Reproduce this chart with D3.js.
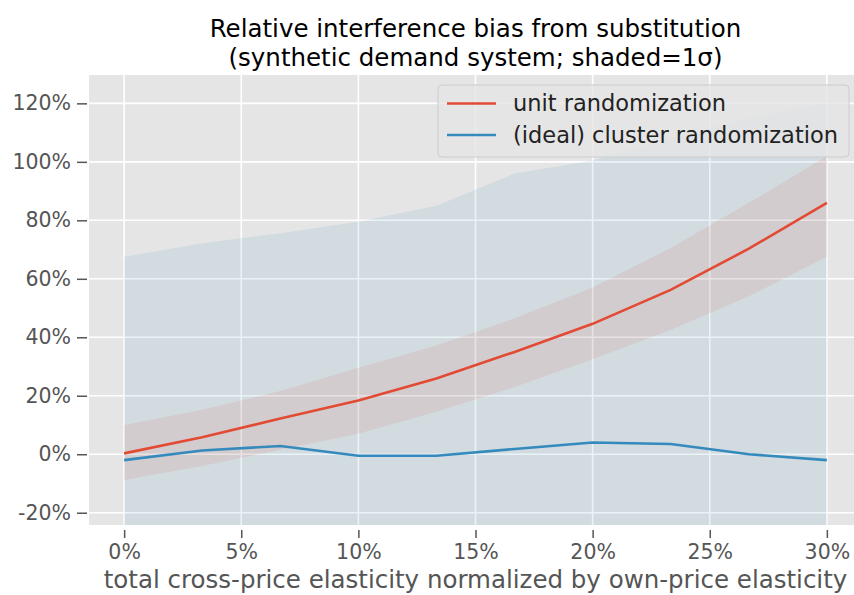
<!DOCTYPE html>
<html>
<head>
<meta charset="utf-8">
<script src="https://d3js.org/d3.v7.min.js"></script>
<style>
  body { margin: 0; background: #fff; }
  text { font-family: "DejaVu Sans", sans-serif; }
</style>
</head>
<body>
<div id="chart"></div>
<script>
// Data (values in percent)
var elasticity = [0, 3.33, 6.67, 10, 13.33, 16.67, 20, 23.33, 26.67, 30];

var unitMean  = [0.3, 5.8, 12.2, 18.4, 25.9, 35.0, 44.6, 56.2, 70.3, 86.0];
var unitLow   = [-8.8, -4.0, 1.5, 7.0, 14.5, 23.0, 32.5, 42.5, 54.0, 67.5];
var unitHigh  = [10.0, 15.2, 21.6, 29.6, 37.2, 46.5, 57.0, 70.5, 86.0, 102.0];

var clusterMean = [-2.0, 1.3, 2.8, -0.5, -0.5, 1.8, 4.0, 3.5, 0.0, -2.0];
var clusterLow  = [-71.5, -69.5, -70.0, -80.5, -86.0, -92.5, -92.5, -101.0, -115.0, -124.0];
var clusterHigh = [67.5, 72.2, 75.6, 79.5, 85.0, 96.0, 100.5, 108.0, 115.0, 120.0];

var xTicks = [0, 5, 10, 15, 20, 25, 30];
var yTicks = [-20, 0, 20, 40, 60, 80, 100, 120];

var seriesNames = ["unit randomization", "(ideal) cluster randomization"];
var seriesColors = ["#E24A33", "#348ABD"];

// Set up chart area
var svgWidth = 854;
var svgHeight = 595;

// the axes run past the right edge of the picture (cropped figure)
var margin = { top: 75, left: 89 };
var width = 773;
var height = 450;

var svg = d3.select("#chart")
  .append("svg")
  .attr("width", svgWidth)
  .attr("height", svgHeight);

var chartGroup = svg.append("g")
  .attr("transform", `translate(${margin.left}, ${margin.top})`);

// Scales
var xScale = d3.scaleLinear()
  .domain([-1.5, 31.5])
  .range([0, width]);

var yScale = d3.scaleLinear()
  .domain([-24.2, 129.7])
  .range([height, 0]);

// Background + grid
chartGroup.append("rect")
  .attr("width", width)
  .attr("height", height)
  .attr("fill", "#E5E5E5");

chartGroup.append("clipPath")
  .attr("id", "plotClip")
  .append("rect")
  .attr("width", width)
  .attr("height", height);

chartGroup.append("g")
  .selectAll("line")
  .data(xTicks)
  .enter()
  .append("line")
  .attr("x1", d => xScale(d))
  .attr("x2", d => xScale(d))
  .attr("y1", 0)
  .attr("y2", height)
  .attr("stroke", "#fff")
  .attr("stroke-width", 1.6);

chartGroup.append("g")
  .selectAll("line")
  .data(yTicks)
  .enter()
  .append("line")
  .attr("x1", 0)
  .attr("x2", width)
  .attr("y1", d => yScale(d))
  .attr("y2", d => yScale(d))
  .attr("stroke", "#fff")
  .attr("stroke-width", 1.6);

// Shaded bands and lines
var plotArea = chartGroup.append("g").attr("clip-path", "url(#plotClip)");

var bands = [
  { mean: clusterMean, low: clusterLow, high: clusterHigh, color: seriesColors[1] },
  { mean: unitMean, low: unitLow, high: unitHigh, color: seriesColors[0] }
];

var area = d3.area()
  .x(d => xScale(d.x))
  .y0(d => yScale(d.lo))
  .y1(d => yScale(d.hi));

var line = d3.line()
  .x(d => xScale(d.x))
  .y(d => yScale(d.y));

bands.forEach(function (b) {
  var pts = elasticity.map((x, i) => ({ x: x, lo: b.low[i], hi: b.high[i] }));
  plotArea.append("path")
    .datum(pts)
    .attr("d", area)
    .attr("fill", b.color)
    .attr("fill-opacity", 0.1);
});

// red line first, blue on top
[bands[1], bands[0]].forEach(function (b) {
  var pts = elasticity.map((x, i) => ({ x: x, y: b.mean[i] }));
  plotArea.append("path")
    .datum(pts)
    .attr("d", line)
    .attr("fill", "none")
    .attr("stroke", b.color)
    .attr("stroke-width", 2.6);
});

// Axes
var bottomAxis = d3.axisBottom(xScale)
  .tickValues(xTicks)
  .tickFormat(d => d + "%")
  .tickSize(8)
  .tickPadding(6);

var leftAxis = d3.axisLeft(yScale)
  .tickValues(yTicks)
  .tickFormat(d => d + "%")
  .tickSize(10)
  .tickPadding(6);

var xAxisG = chartGroup.append("g")
  .attr("transform", `translate(0, ${height + 5})`)
  .call(bottomAxis);

var yAxisG = chartGroup.append("g")
  .attr("transform", "translate(-2, 0)")
  .call(leftAxis);

[xAxisG, yAxisG].forEach(function (g) {
  g.select(".domain").remove();
  g.selectAll(".tick line").attr("stroke", "#555").attr("stroke-width", 1.5);
  g.selectAll(".tick text")
    .attr("fill", "#555")
    .style("font-size", "20.5px")
    .style("font-family", "DejaVu Sans, sans-serif");
});

// Axis label (centred on the axes)
svg.append("text")
  .attr("x", margin.left + width / 2)
  .attr("y", 588)
  .attr("text-anchor", "middle")
  .attr("fill", "#555")
  .style("font-size", "24.5px")
  .text("total cross-price elasticity normalized by own-price elasticity");

// Title
svg.append("text")
  .attr("x", margin.left + width / 2)
  .attr("y", 37)
  .attr("text-anchor", "middle")
  .attr("fill", "#000")
  .style("font-size", "24.5px")
  .text("Relative interference bias from substitution");

svg.append("text")
  .attr("x", margin.left + width / 2)
  .attr("y", 66)
  .attr("text-anchor", "middle")
  .attr("fill", "#000")
  .style("font-size", "24.5px")
  .text("(synthetic demand system; shaded=1σ)");

// Legend
var legend = svg.append("g");

legend.append("rect")
  .attr("x", 438)
  .attr("y", 85)
  .attr("width", 411)
  .attr("height", 72)
  .attr("rx", 4)
  .attr("fill", "#E5E5E5")
  .attr("fill-opacity", 0.8)
  .attr("stroke", "#CCCCCC")
  .attr("stroke-width", 1);

var legendRows = legend.selectAll(".legendRow")
  .data(seriesNames)
  .enter()
  .append("g")
  .attr("transform", (d, i) => `translate(447, ${103.5 + i * 31.5})`);

legendRows.append("line")
  .attr("x1", 0)
  .attr("x2", 49)
  .attr("stroke", (d, i) => seriesColors[i])
  .attr("stroke-width", 2.6);

legendRows.append("text")
  .attr("x", 66)
  .attr("dy", "0.35em")
  .attr("fill", "#222")
  .style("font-size", "22.5px")
  .text(d => d);
</script>
</body>
</html>
